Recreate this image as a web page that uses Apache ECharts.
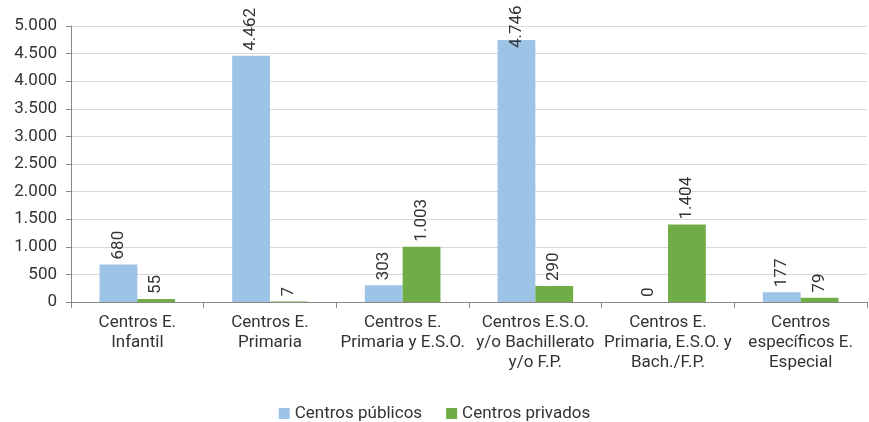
<!DOCTYPE html>
<html><head><meta charset="utf-8">
<script src="https://cdn.jsdelivr.net/npm/echarts@6/dist/echarts.min.js"></script>
<style>html,body{margin:0;padding:0;background:#fff}#c{width:869px;height:422px}</style>
</head><body><div id="c"></div>
<script>
const categories = [
  "Centros E.\nInfantil",
  "Centros E.\nPrimaria",
  "Centros E.\nPrimaria y E.S.O.",
  "Centros E.S.O.\ny/o Bachillerato\ny/o F.P.",
  "Centros E.\nPrimaria, E.S.O. y\nBach./F.P.",
  "Centros\nespecíficos E.\nEspecial"
];
const publicos = [680, 4462, 303, 4746, 0, 177];
const privados = [55, 7, 1003, 290, 1404, 79];
const seriesNames = ["Centros públicos", "Centros privados"];

const fmt = v => String(v).replace(/\B(?=(\d{3})+(?!\d))/g, ".");
const font = "Roboto";
const FS = 17;
const chart = echarts.init(document.getElementById('c'));
const lbl = {
  show: true, position: 'top', rotate: 90, align: 'left', verticalAlign: 'middle',
  distance: 5, fontFamily: font, fontSize: FS, color: '#333',
  formatter: p => fmt(p.value)
};
// labels that would overflow the top of the chart are pulled down to fit
const toItems = arr => arr.map(v => v > 4600 ? { value: v, label: { distance: -8 } } : v);
chart.setOption({
  animation: false,
  textStyle: { fontFamily: font },
  grid: { left: 71, right: 2, top: 26, bottom: 120 },
  legend: {
    top: 400, left: 'center', itemWidth: 11, itemHeight: 11, itemGap: 24,
    icon: 'rect', textStyle: { fontFamily: font, fontSize: FS, color: '#333' },
    data: seriesNames
  },
  xAxis: {
    type: 'category', data: categories,
    axisLine: { lineStyle: { color: '#888' } },
    axisTick: { show: true, length: 6, lineStyle: { color: '#888' } },
    axisLabel: { interval: 0, fontFamily: font, fontSize: FS, color: '#333', lineHeight: 20, margin: 11 }
  },
  yAxis: {
    type: 'value', min: 0, max: 5000, interval: 500,
    axisLine: { show: true, lineStyle: { color: '#888' } },
    axisTick: { show: true, length: 5, lineStyle: { color: '#888' } },
    splitLine: { lineStyle: { color: '#d9d9d9' } },
    axisLabel: { fontFamily: font, fontSize: FS, color: '#333', margin: 14, formatter: v => fmt(v) }
  },
  series: [
    { name: seriesNames[0], type: 'bar', data: toItems(publicos), barGap: '0%', barCategoryGap: '43%',
      itemStyle: { color: '#9dc3e6' }, label: lbl },
    { name: seriesNames[1], type: 'bar', data: toItems(privados),
      itemStyle: { color: '#70ad47' }, label: lbl }
  ]
});
</script></body></html>
